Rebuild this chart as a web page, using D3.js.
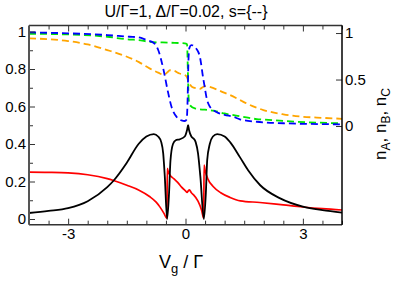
<!DOCTYPE html>
<html><head><meta charset="utf-8">
<script src="https://cdn.jsdelivr.net/npm/d3@7"></script>
<style>body{margin:0;background:#fff}text{font-family:"Liberation Sans",Arial,sans-serif}</style>
</head><body><svg id="c" width="395" height="284"></svg>
<script>
// ---- data ----
const blackV = [-4,-3.5,-3,-2.5,-2,-1.84,-1.5,-1.2,-1.0,-0.81,-0.7,-0.62,-0.57,-0.53,-0.47,-0.42,-0.385,-0.32,-0.25,-0.15,-0.02,0.04,0.067,0.09,0.15,0.2,0.26,0.32,0.38,0.47,0.52,0.555,0.62,0.7,0.81,1.0,1.14,1.39,1.6,1.91,2.42,3,3.5,4];
const blackG = [0.032,0.043,0.058,0.095,0.17,0.204,0.30,0.40,0.44,0.453,0.44,0.41,0.35,0.23,0.0,0.14,0.31,0.40,0.42,0.425,0.44,0.475,0.50,0.475,0.44,0.43,0.41,0.35,0.226,0.0,0.137,0.315,0.40,0.44,0.453,0.44,0.41,0.33,0.26,0.18,0.11,0.066,0.047,0.034];

const redV = [-4,-3.5,-3,-2.5,-2,-1.84,-1.5,-1.2,-0.92,-0.75,-0.66,-0.55,-0.475,-0.465,-0.44,-0.4,-0.3,-0.2,-0.1,0.0,0.04,0.07,0.1,0.15,0.2,0.32,0.41,0.465,0.475,0.5,0.58,0.7,0.9,1.14,1.4,1.9,2.5,3,3.5,4];
const redS = [0.25,0.249,0.246,0.236,0.215,0.205,0.18,0.155,0.12,0.09,0.066,0.03,0.003,0.27,0.25,0.235,0.215,0.195,0.17,0.15,0.142,0.15,0.155,0.14,0.13,0.095,0.048,0.005,0.288,0.26,0.21,0.175,0.14,0.115,0.097,0.088,0.075,0.064,0.055,0.048];

const blueV = [-4,-3,-2,-1.43,-1.2,-1.0,-0.8,-0.7,-0.57,-0.45,-0.36,-0.23,-0.1,-0.02,0.03,0.055,0.075,0.1,0.15,0.22,0.28,0.37,0.45,0.49,0.54,0.62,0.79,1.0,1.22,1.39,1.82,2.5,3,4];
const blueN = [1.007,0.997,0.978,0.96,0.954,0.925,0.89,0.82,0.62,0.37,0.21,0.10,0.06,0.054,0.07,0.3,0.7,0.84,0.87,0.86,0.83,0.74,0.52,0.42,0.30,0.21,0.15,0.12,0.10,0.072,0.046,0.03,0.024,0.018];

const greenV = [-4,-3,-2,-1.43,-1.2,-0.92,-0.4,-0.02,0.04,0.06,0.08,0.11,0.24,0.71,1.0,1.39,1.82,2.0,2.85,4];
const greenN = [0.992,0.985,0.96,0.93,0.925,0.905,0.896,0.889,0.88,0.6,0.3,0.226,0.19,0.165,0.135,0.105,0.075,0.07,0.046,0.029];

const orangeV = [-4,-3,-2.5,-2,-1.56,-1.2,-0.92,-0.7,-0.55,-0.47,-0.4,-0.3,-0.15,-0.05,0.03,0.07,0.11,0.17,0.28,0.37,0.45,0.52,0.62,0.79,0.95,1.14,1.39,1.48,1.99,2.5,3,3.5,4];
const orangeN = [0.943,0.914,0.878,0.817,0.756,0.69,0.62,0.575,0.55,0.575,0.60,0.595,0.565,0.555,0.53,0.49,0.45,0.42,0.405,0.40,0.42,0.43,0.42,0.395,0.365,0.333,0.28,0.26,0.172,0.126,0.10,0.088,0.078];

const xTickLabels = [-3, 0, 3];
const yLeftTicks = [0, 0.2, 0.4, 0.6, 0.8, 1];
const yRightTicks = [0, 0.5, 1];

// ---- layout ----
const svg = d3.select("#c");
const L = 29, R = 342, T = 25.5, B = 224.7;
const x = d3.scaleLinear().domain([-4, 4]).range([L, R]);
const yL = d3.scaleLinear().domain([-0.0304, 1.032]).range([B, T]);
const yR = d3.scaleLinear().domain([-1.061, 1.081]).range([B, T]);

const fmt = d => String(d);

// curves
const lineL = d3.line().x(d => x(d[0])).y(d => yL(d[1])).curve(d3.curveMonotoneX);
const lineR = d3.line().x(d => x(d[0])).y(d => yR(d[1])).curve(d3.curveMonotoneX);
const zip = (a, b) => a.map((v, i) => [v, b[i]]);
const plot = svg.append("g");
plot.append("path").attr("d", lineR(zip(orangeV, orangeN))).attr("fill","none").attr("stroke","#ffa500").attr("stroke-width",1.8).attr("stroke-dasharray","7,4");
plot.append("path").attr("d", lineR(zip(greenV, greenN))).attr("fill","none").attr("stroke","#00e600").attr("stroke-width",1.8).attr("stroke-dasharray","7,4");
plot.append("path").attr("d", lineR(zip(blueV, blueN))).attr("fill","none").attr("stroke","#0000ff").attr("stroke-width",1.8).attr("stroke-dasharray","7,4");
plot.append("path").attr("d", lineL(zip(redV, redS))).attr("fill","none").attr("stroke","#ff0000").attr("stroke-width",1.7);
plot.append("path").attr("d", lineL(zip(blackV, blackG))).attr("fill","none").attr("stroke","#000").attr("stroke-width",1.8);

// axes
const minorX = d3.range(-4, 4.01, 0.5).filter(v => !xTickLabels.includes(v));
const minorYL = d3.range(0, 1.01, 0.1).map(v => +v.toFixed(2)).filter(v => !yLeftTicks.includes(v));

function styleAxis(g){ g.select(".domain").remove(); g.selectAll("line").attr("stroke","#333").attr("stroke-width",1); g.selectAll("text").attr("font-size",15).attr("fill","#000").attr("font-family",'"Liberation Sans",Arial,sans-serif'); }

svg.append("g").attr("transform",`translate(0,${B})`).call(d3.axisBottom(x).tickValues(xTickLabels).tickSize(-6).tickPadding(4).tickFormat(fmt)).call(styleAxis);
svg.append("g").attr("transform",`translate(0,${B})`).call(d3.axisBottom(x).tickValues(minorX).tickSize(-4).tickFormat("")).call(styleAxis);
svg.append("g").attr("transform",`translate(0,${T})`).call(d3.axisTop(x).tickValues(xTickLabels).tickSize(-6).tickFormat("")).call(styleAxis);
svg.append("g").attr("transform",`translate(0,${T})`).call(d3.axisTop(x).tickValues(minorX).tickSize(-4).tickFormat("")).call(styleAxis);

svg.append("g").attr("transform",`translate(${L},0)`).call(d3.axisLeft(yL).tickValues(yLeftTicks).tickSize(-6).tickPadding(3).tickFormat(fmt)).call(styleAxis);
svg.append("g").attr("transform",`translate(${L},0)`).call(d3.axisLeft(yL).tickValues(minorYL).tickSize(-4).tickFormat("")).call(styleAxis);
svg.append("g").attr("transform",`translate(${R},0)`).call(d3.axisRight(yR).tickValues(yRightTicks).tickSize(-6).tickPadding(3).tickFormat(fmt)).call(styleAxis);

// frame
svg.append("line").attr("x1",L).attr("x2",R).attr("y1",T).attr("y2",T).attr("stroke","#333").attr("stroke-width",1.5);
svg.append("line").attr("x1",L).attr("x2",R).attr("y1",B).attr("y2",B).attr("stroke","#333").attr("stroke-width",1.5);
svg.append("line").attr("x1",L).attr("x2",L).attr("y1",T).attr("y2",B).attr("stroke","#555").attr("stroke-width",2);
svg.append("line").attr("x1",R).attr("x2",R).attr("y1",T).attr("y2",B).attr("stroke","#000").attr("stroke-width",1.5);

// title
svg.append("text").attr("x",186).attr("y",17).attr("text-anchor","middle").attr("font-size",16).text("U/Γ=1, Δ/Γ=0.02, s={--}");

// x label
const xl = svg.append("text").attr("x",181).attr("y",268).attr("text-anchor","middle").attr("font-size",18);
xl.append("tspan").text("V");
xl.append("tspan").attr("font-size",13).attr("dy",5).text("g");
xl.append("tspan").attr("dy",-5).text(" / Γ");

// right label
const yl = svg.append("text").attr("transform","translate(386,124) rotate(-90)").attr("text-anchor","middle").attr("font-size",17);
[["n","A"],["n","B"],["n","C"]].forEach((p,i)=>{
  yl.append("tspan").attr("dy", i===0?0:-4).text((i>0?", ":"")+p[0]);
  yl.append("tspan").attr("font-size",12).attr("dy",4).text(p[1]);
});
</script></body></html>
